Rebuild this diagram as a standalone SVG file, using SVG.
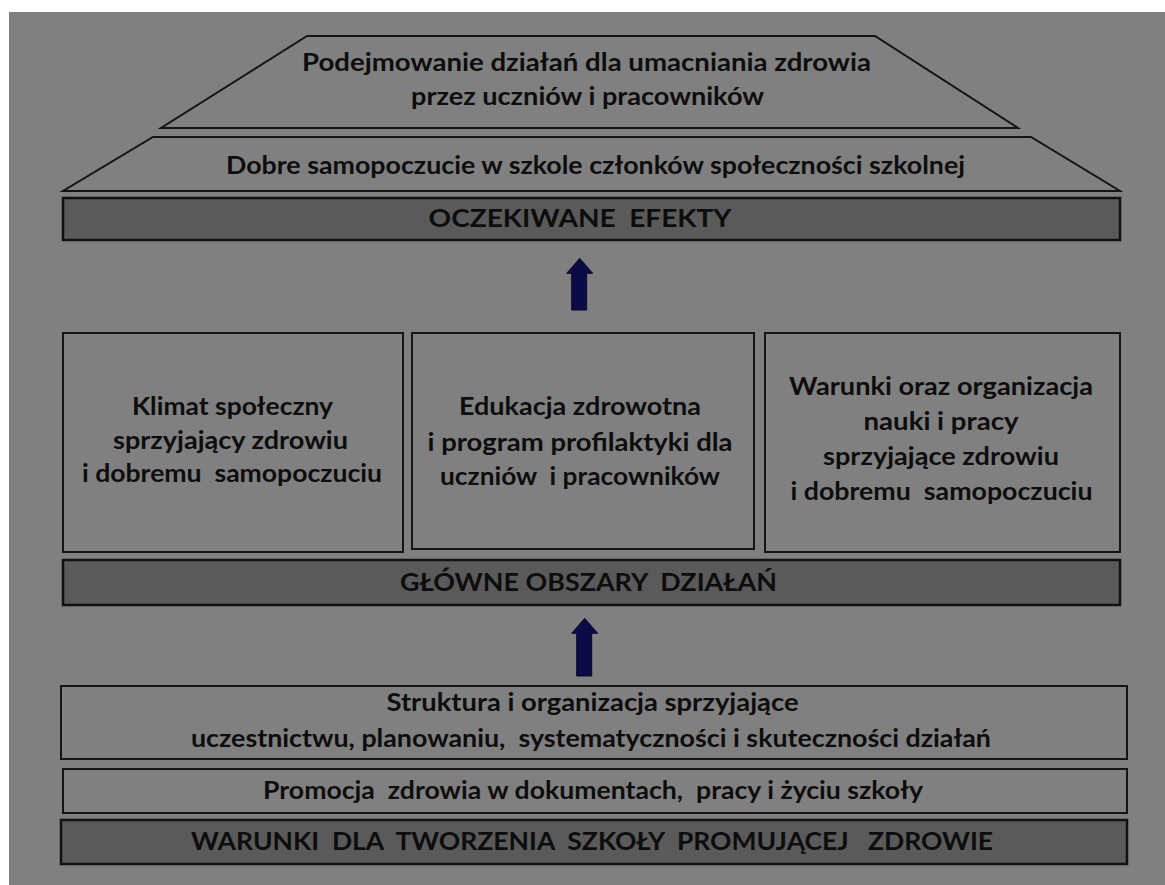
<svg xmlns="http://www.w3.org/2000/svg" width="1165" height="885" viewBox="0 0 1165 885">
<style>
.shape{fill:#808080;stroke:#141414;stroke-width:2}
.bar{fill:#5a5a5a;stroke:#111;stroke-width:2.5}
.t{font-family:Lato,"Liberation Sans",sans-serif;font-weight:bold;font-size:25px;fill:#0d0d0d;text-anchor:middle;white-space:pre}
.arrow{fill:#0b0b45;stroke:#0a0a2a;stroke-width:1}
</style>
<rect x="0" y="0" width="1165" height="885" fill="#ffffff"/>
<rect x="9" y="12" width="1156" height="873" fill="#808080"/>

<g id="effect-top">
<polygon class="shape" points="307,36 875,36 1018,128 161,128"/>
<text class="t" x="586.5" y="71" textLength="569" lengthAdjust="spacingAndGlyphs">Podejmowanie działań dla umacniania zdrowia</text>
<text class="t" x="587.5" y="105" textLength="353" lengthAdjust="spacingAndGlyphs">przez uczniów i pracowników</text>
</g>

<g id="effect-wellbeing">
<polygon class="shape" points="153,137 1031,137 1120,191 63,191"/>
<text class="t" x="595.5" y="174" textLength="739" lengthAdjust="spacingAndGlyphs">Dobre samopoczucie w szkole członków społeczności szkolnej</text>
</g>

<g id="expected-effects">
<rect class="bar" x="63" y="198" width="1057" height="42"/>
<text class="t" x="580" y="226.5" textLength="303" lengthAdjust="spacingAndGlyphs">OCZEKIWANE  EFEKTY</text>
</g>

<g id="area-climate">
<rect class="shape" x="63" y="333" width="340" height="219"/>
<text class="t" x="232.5" y="415" textLength="201" lengthAdjust="spacingAndGlyphs">Klimat społeczny</text>
<text class="t" x="230.5" y="449" textLength="235" lengthAdjust="spacingAndGlyphs">sprzyjający zdrowiu</text>
<text class="t" x="232" y="482" textLength="300" lengthAdjust="spacingAndGlyphs">i dobremu  samopoczuciu</text>
</g>

<g id="area-education">
<rect class="shape" x="412" y="333" width="342" height="216"/>
<text class="t" x="580" y="415" textLength="242" lengthAdjust="spacingAndGlyphs">Edukacja zdrowotna</text>
<text class="t" x="580" y="451" textLength="305" lengthAdjust="spacingAndGlyphs">i program profilaktyki dla</text>
<text class="t" x="580" y="485" textLength="280" lengthAdjust="spacingAndGlyphs">uczniów  i pracowników</text>
</g>

<g id="area-conditions">
<rect class="shape" x="765" y="333" width="355" height="219"/>
<text class="t" x="941" y="395" textLength="304" lengthAdjust="spacingAndGlyphs">Warunki oraz organizacja</text>
<text class="t" x="941" y="430" textLength="155" lengthAdjust="spacingAndGlyphs">nauki i pracy</text>
<text class="t" x="941" y="465" textLength="236" lengthAdjust="spacingAndGlyphs">sprzyjające zdrowiu</text>
<text class="t" x="941.5" y="500" textLength="302" lengthAdjust="spacingAndGlyphs">i dobremu  samopoczuciu</text>
</g>

<g id="main-areas">
<rect class="bar" x="63" y="560" width="1057" height="45"/>
<text class="t" x="588.5" y="591" textLength="377" lengthAdjust="spacingAndGlyphs">GŁÓWNE OBSZARY  DZIAŁAŃ</text>
</g>

<g id="cond-structure">
<rect class="shape" x="61" y="686" width="1066" height="73"/>
<text class="t" x="592.5" y="711" textLength="412" lengthAdjust="spacingAndGlyphs">Struktura i organizacja sprzyjające</text>
<text class="t" x="591" y="747" textLength="800" lengthAdjust="spacingAndGlyphs">uczestnictwu, planowaniu,  systematyczności i skuteczności działań</text>
</g>

<g id="cond-promotion">
<rect class="shape" x="63" y="769" width="1064" height="44"/>
<text class="t" x="593" y="799" textLength="660" lengthAdjust="spacingAndGlyphs">Promocja  zdrowia w dokumentach,  pracy i życiu szkoły</text>
</g>

<g id="conditions">
<rect class="bar" x="61" y="820" width="1066" height="44"/>
<text class="t" x="592" y="850" textLength="802" lengthAdjust="spacingAndGlyphs">WARUNKI  DLA  TWORZENIA  SZKOŁY  PROMUJĄCEJ   ZDROWIE</text>
</g>

<g id="connectors">
<polygon class="arrow" points="579.7,258.3 592.7,273.3 586.7,273.3 586.7,310 571.7,310 571.7,273.3 566.7,273.3"/>
<polygon class="arrow" points="584.7,618.3 597.7,633.3 591.7,633.3 591.7,676 576.7,676 576.7,633.3 571.7,633.3"/>
</g>
</svg>
